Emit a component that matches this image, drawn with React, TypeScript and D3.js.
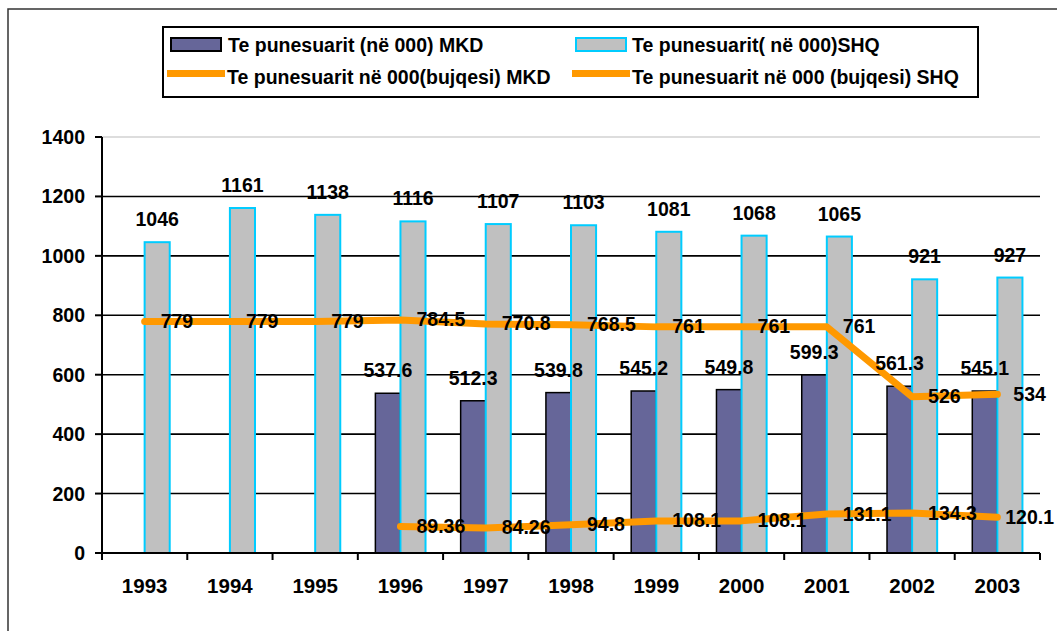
import React from 'react';
import * as d3 from 'd3';

const YEARS = ['1993', '1994', '1995', '1996', '1997', '1998', '1999', '2000', '2001', '2002', '2003'];
// employed, thousands
const MKD_EMPLOYED: (number | null)[] = [null, null, null, 537.6, 512.3, 539.8, 545.2, 549.8, 599.3, 561.3, 545.1];
const SHQ_EMPLOYED: number[] = [1046, 1161, 1138, 1116, 1107, 1103, 1081, 1068, 1065, 921, 927];
// employed in agriculture, thousands
const MKD_AGRI: (number | null)[] = [null, null, null, 89.36, 84.26, 94.8, 108.1, 108.1, 131.1, 134.3, 120.1];
const SHQ_AGRI: number[] = [779, 779, 779, 784.5, 770.8, 768.5, 761, 761, 761, 526, 534];
const Y_TICKS = [0, 200, 400, 600, 800, 1000, 1200, 1400];

const LEGEND_BARS = ['Te punesuarit (në 000) MKD', 'Te punesuarit( në 000)SHQ'];
const LEGEND_LINES = ['Te punesuarit në 000(bujqesi) MKD', 'Te punesuarit në 000 (bujqesi) SHQ'];

const W = 1057;
const H = 631;
const FONT = '"Liberation Sans", Arial, sans-serif';
const FS = 19.5;
const ORANGE = '#FF9900';
const DARK = '#666699';
const GRAY = '#C0C0C0';
const CYAN = '#00CCFF';

const plot = { left: 102, right: 1040, top: 137, bottom: 553 };

// rough width of a numeric label in Arial bold
const numWidth = (s: string) =>
  s.split('').reduce((w, c) => w + (c === '.' ? 0.278 : 0.556), 0) * FS;

export default function App() {
  const x = d3.scaleBand<string>().domain(YEARS).range([plot.left, plot.right]).padding(0);
  const y = d3.scaleLinear().domain([0, 1400]).range([plot.bottom, plot.top]);

  const bw = x.bandwidth();
  const barW = bw / 3.4; // excel gap width 140%
  const inner = d3
    .scaleBand<string>()
    .domain(['MKD', 'SHQ'])
    .range([bw / 2 - barW, bw / 2 + barW]);

  const cx = (yr: string) => (x(yr) ?? 0) + bw / 2;

  const line = d3
    .line<number | null>()
    .defined(d => d != null)
    .x((_, i) => cx(YEARS[i]))
    .y(d => y(d as number));

  const txt = {
    fontFamily: FONT,
    fontSize: FS,
    fontWeight: 700,
    fill: '#000',
  } as const;

  // labels to the right of the point, pulled back in if they would leave the chart
  const lineLabels = (vals: (number | null)[], key: string) =>
    vals.map((v, i) => {
      if (v == null) return null;
      const s = String(v);
      const lx = Math.min(cx(YEARS[i]) + 16, W - 3 - numWidth(s));
      return (
        <text key={key + i} x={lx} y={y(v) + 6.5} {...txt}>
          {s}
        </text>
      );
    });

  return (
    <svg
      width={W}
      height={H}
      style={{ position: 'absolute', left: 0, top: 0, display: 'block', background: '#fff' }}
    >
      {/* outer frame, cropped on the right and bottom */}
      <rect x={8} y={9} width={1200} height={800} fill="#fff" stroke="#333" strokeWidth={1.5} />

      {/* legend */}
      <rect x={163} y={27} width={815} height={70} fill="#fff" stroke="#000" strokeWidth={2} />
      <rect x={171} y={38} width={50} height={13} fill={DARK} stroke="#000" strokeWidth={2} />
      <text x={228} y={51.5} {...txt}>{LEGEND_BARS[0]}</text>
      <rect x={576} y={38} width={50} height={13} fill={GRAY} stroke={CYAN} strokeWidth={2} />
      <text x={632} y={51.5} {...txt}>{LEGEND_BARS[1]}</text>
      <line x1={167} x2={225} y1={73.5} y2={73.5} stroke={ORANGE} strokeWidth={7} />
      <text x={227} y={83.5} {...txt}>{LEGEND_LINES[0]}</text>
      <line x1={572} x2={630} y1={73.5} y2={73.5} stroke={ORANGE} strokeWidth={7} />
      <text x={632} y={83.5} {...txt}>{LEGEND_LINES[1]}</text>

      {/* gridlines */}
      {Y_TICKS.filter(t => t > 0).map(t => (
        <line
          key={'g' + t}
          x1={plot.left}
          x2={plot.right}
          y1={y(t)}
          y2={y(t)}
          stroke={t === 1400 ? '#bbb' : '#000'}
          strokeWidth={t === 1400 ? 1 : 1.6}
        />
      ))}

      {/* bars */}
      {YEARS.map((yr, i) => {
        const v = MKD_EMPLOYED[i];
        if (v == null) return null;
        return (
          <rect
            key={'m' + yr}
            x={(x(yr) ?? 0) + (inner('MKD') ?? 0)}
            y={y(v)}
            width={inner.bandwidth()}
            height={y(0) - y(v)}
            fill={DARK}
            stroke="#000"
            strokeWidth={1.5}
          />
        );
      })}
      {YEARS.map((yr, i) => {
        const v = SHQ_EMPLOYED[i];
        return (
          <rect
            key={'s' + yr}
            x={(x(yr) ?? 0) + (inner('SHQ') ?? 0)}
            y={y(v)}
            width={inner.bandwidth()}
            height={y(0) - y(v)}
            fill={GRAY}
            stroke={CYAN}
            strokeWidth={2}
          />
        );
      })}

      {/* axes */}
      <line x1={plot.left} x2={plot.left} y1={plot.top} y2={plot.bottom} stroke="#000" strokeWidth={2} />
      <line x1={plot.left} x2={plot.right} y1={plot.bottom} y2={plot.bottom} stroke="#000" strokeWidth={2} />
      {Y_TICKS.map(t => (
        <g key={'yt' + t}>
          <line x1={plot.left - 7} x2={plot.left} y1={y(t)} y2={y(t)} stroke="#000" strokeWidth={2} />
          <text x={plot.left - 17} y={y(t) + 7} textAnchor="end" {...txt}>
            {t}
          </text>
        </g>
      ))}
      {[...YEARS.map(yr => x(yr) ?? 0), plot.right].map((px, i) => (
        <line key={'xt' + i} x1={px} x2={px} y1={plot.bottom} y2={plot.bottom + 7} stroke="#000" strokeWidth={2} />
      ))}
      {YEARS.map(yr => (
        <text key={'xl' + yr} x={cx(yr)} y={593} textAnchor="middle" {...txt} fontSize={20.5}>
          {yr}
        </text>
      ))}

      {/* lines */}
      <path d={line(SHQ_AGRI) ?? ''} fill="none" stroke={ORANGE} strokeWidth={7} strokeLinecap="round" strokeLinejoin="round" />
      <path d={line(MKD_AGRI) ?? ''} fill="none" stroke={ORANGE} strokeWidth={7} strokeLinecap="round" strokeLinejoin="round" />

      {/* bar labels */}
      {YEARS.map((yr, i) => {
        const v = MKD_EMPLOYED[i];
        if (v == null) return null;
        return (
          <text
            key={'ml' + yr}
            x={(x(yr) ?? 0) + (inner('MKD') ?? 0) + inner.bandwidth() / 2}
            y={y(v) - 16}
            textAnchor="middle"
            {...txt}
          >
            {v}
          </text>
        );
      })}
      {YEARS.map((yr, i) => (
        <text
          key={'sl' + yr}
          x={(x(yr) ?? 0) + (inner('SHQ') ?? 0) + inner.bandwidth() / 2}
          y={y(SHQ_EMPLOYED[i]) - 16}
          textAnchor="middle"
          {...txt}
        >
          {SHQ_EMPLOYED[i]}
        </text>
      ))}

      {/* line labels */}
      {lineLabels(SHQ_AGRI, 'sa')}
      {lineLabels(MKD_AGRI, 'ma')}
    </svg>
  );
}
